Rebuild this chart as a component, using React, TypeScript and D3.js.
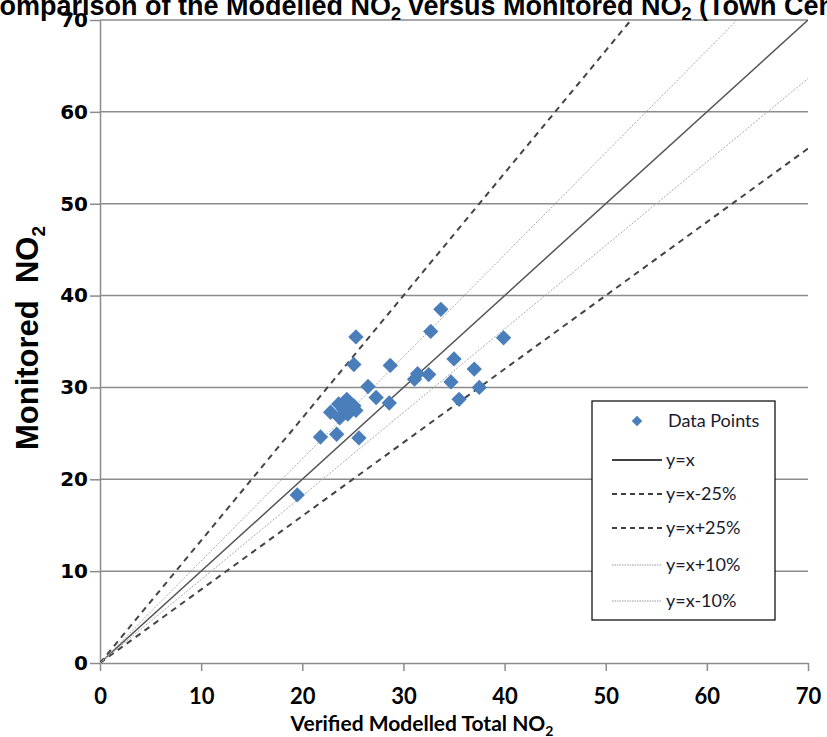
import React, { useRef, useEffect } from 'react';
import * as d3 from 'd3';

// Verified modelled total NO2 (x) vs monitored NO2 (y)
const modelled = [
    19.5, 21.8, 23.4, 25.6, 22.8, 23.6, 24.4, 25.1, 24.5, 23.7, 25.3, 24.1,
    26.5, 27.3, 28.6, 25.3, 25.1, 28.7, 31.1, 31.4, 32.5, 32.7, 33.7, 34.7,
    35.0, 35.5, 37.0, 37.5, 39.9,
];
const monitored = [
    18.3, 24.6, 24.9, 24.5, 27.3, 28.2, 28.7, 28.0, 27.1, 26.7, 27.5, 27.6,
    30.1, 28.9, 28.3, 35.5, 32.5, 32.4, 30.9, 31.5, 31.4, 36.1, 38.5, 30.6,
    33.1, 28.7, 32.0, 30.0, 35.4,
];

const ticks = [0, 10, 20, 30, 40, 50, 60, 70];

// reference lines: label, slope
const refLabels = ['y=x', 'y=x-25%', 'y=x+25%', 'y=x+10%', 'y=x-10%'];
const refSlopes = [1, 1 / 1.25, 1 / 0.75, 1 / 0.9, 1 / 1.1];
const refKinds = ['solid', 'dashed', 'dashed', 'dotted', 'dotted'];

const W = 827;
const H = 737;

export default function App() {
    const svgRef = useRef<SVGSVGElement>(null);

    useEffect(() => {
        if (!svgRef.current) return;
        const svg = d3.select(svgRef.current);
        svg.selectAll('*').remove();

        const margin = { top: 20, right: 19, bottom: 74, left: 100 };
        const x = d3.scaleLinear().domain([0, 70]).range([margin.left, W - margin.right]);
        const y = d3.scaleLinear().domain([0, 70]).range([H - margin.bottom, margin.top]);

        const lineStyle: Record<string, { stroke: string; width: number; dash: string | null }> = {
            solid: { stroke: '#555', width: 1.5, dash: null },
            dashed: { stroke: '#444', width: 2, dash: '6,5' },
            dotted: { stroke: '#aaa', width: 1, dash: '2,1.5' },
        };

        svg.append('defs').append('clipPath').attr('id', 'plot-clip')
            .append('rect')
            .attr('x', x(0)).attr('y', y(70))
            .attr('width', x(70) - x(0)).attr('height', y(0) - y(70));

        // horizontal gridlines
        svg.append('g')
            .selectAll('line')
            .data(ticks.slice(1))
            .join('line')
            .attr('x1', x(0)).attr('x2', x(70))
            .attr('y1', d => y(d)).attr('y2', d => y(d))
            .attr('stroke', '#8c8c8c').attr('stroke-width', 1.5);

        // axes
        const xAxis = svg.append('g')
            .attr('transform', `translate(0,${y(0)})`)
            .call(d3.axisBottom(x).tickValues(ticks).tickSize(8).tickSizeOuter(0).tickFormat(d3.format('d')));
        xAxis.select('.domain').attr('stroke', '#8c8c8c').attr('stroke-width', 1.5);
        xAxis.selectAll('.tick line').attr('stroke', '#8c8c8c').attr('stroke-width', 1.5);
        xAxis.selectAll('.tick text')
            .attr('y', 25)
            .attr('font-family', 'Lato, sans-serif').attr('font-weight', 'bold')
            .attr('font-size', 22).attr('fill', '#000');

        const yAxis = svg.append('g')
            .attr('transform', `translate(${x(0)},0)`)
            .call(d3.axisLeft(y).tickValues(ticks).tickSize(10).tickSizeOuter(0).tickFormat(d3.format('d')));
        yAxis.select('.domain').attr('stroke', '#8c8c8c').attr('stroke-width', 1.5);
        yAxis.selectAll('.tick line').attr('stroke', '#8c8c8c').attr('stroke-width', 1.5);
        yAxis.selectAll('.tick text')
            .attr('x', -12)
            .attr('font-family', '"DejaVu Sans", sans-serif').attr('font-weight', 'bold')
            .attr('font-size', 20).attr('fill', '#000');

        // reference lines
        const gl = svg.append('g').attr('clip-path', 'url(#plot-clip)');
        refSlopes.forEach((s, i) => {
            const st = lineStyle[refKinds[i]];
            gl.append('line')
                .attr('x1', x(0)).attr('y1', y(0))
                .attr('x2', x(70)).attr('y2', y(70 * s))
                .attr('stroke', st.stroke).attr('stroke-width', st.width)
                .attr('stroke-dasharray', st.dash);
        });

        // data points
        const diamond = d3.symbol().type(d3.symbolDiamond2).size(150);
        svg.append('g')
            .selectAll('path')
            .data(modelled.map((m, i) => [m, monitored[i]]))
            .join('path')
            .attr('d', diamond)
            .attr('transform', d => `translate(${x(d[0])},${y(d[1])})`)
            .attr('fill', '#4a7ebb');

        // legend
        const lg = svg.append('g');
        lg.append('rect')
            .attr('x', 592).attr('y', 401).attr('width', 183).attr('height', 219)
            .attr('fill', '#fff').attr('stroke', '#000').attr('stroke-width', 1.2);
        const rowY = [421, 460, 494, 528, 565, 601];
        lg.append('path')
            .attr('d', d3.symbol().type(d3.symbolDiamond2).size(70)())
            .attr('transform', `translate(637,${rowY[0]})`)
            .attr('fill', '#4a7ebb');
        const legText = (yy: number, t: string, xx: number) =>
            lg.append('text').attr('x', xx).attr('y', yy).attr('dy', '0.35em')
                .attr('font-family', 'Lato, sans-serif').attr('font-size', 18)
                .attr('fill', '#1a1a2e').text(t);
        legText(rowY[0], 'Data Points', 668);
        refLabels.forEach((lab, i) => {
            const yy = rowY[i + 1];
            lg.append('line')
                .attr('x1', 612).attr('x2', 662).attr('y1', yy).attr('y2', yy)
                .attr('stroke', refKinds[i] === 'dotted' ? '#999' : '#000')
                .attr('stroke-width', refKinds[i] === 'dotted' ? 1 : 1.3)
                .attr('stroke-dasharray', refKinds[i] === 'dashed' ? '5,4' : refKinds[i] === 'dotted' ? '1.5,1' : null);
            legText(yy, lab, 666);
        });

        // title (clipped at top of frame)
        const title = svg.append('text')
            .attr('x', -20).attr('y', 15)
            .attr('font-family', '"Liberation Sans", Arial, sans-serif')
            .attr('font-weight', 'bold').attr('font-size', 27).attr('fill', '#000');
        title.append('tspan').text('Comparison of the Modelled NO');
        title.append('tspan').attr('font-size', 18).attr('dy', 5).text('2');
        title.append('tspan').attr('dy', -5).text(' versus Monitored NO');
        title.append('tspan').attr('font-size', 18).attr('dy', 5).text('2');
        title.append('tspan').attr('dy', -5).text(' (Town Centre)');

        // axis titles
        const xt = svg.append('text')
            .attr('x', 422).attr('y', 731).attr('text-anchor', 'middle')
            .attr('font-family', 'Lato, sans-serif').attr('font-weight', 'bold')
            .attr('font-size', 21).attr('fill', '#000');
        xt.append('tspan').text('Verified Modelled Total NO');
        xt.append('tspan').attr('font-size', 14).attr('dy', 5).text('2');

        const yt = svg.append('text')
            .attr('transform', `translate(38,338) rotate(-90)`)
            .attr('text-anchor', 'middle')
            .attr('font-family', '"Liberation Sans", Arial, sans-serif').attr('font-weight', 'bold')
            .attr('font-size', 31).attr('fill', '#000')
            .attr('xml:space', 'preserve');
        yt.append('tspan').text('Monitored  NO');
        yt.append('tspan').attr('font-size', 19).attr('dy', 7).text('2');
    }, []);

    return (
        <svg
            ref={svgRef}
            width={W}
            height={H}
            viewBox={`0 0 ${W} ${H}`}
            style={{ position: 'absolute', left: 0, top: 0, background: '#fff' }}
        />
    );
}
